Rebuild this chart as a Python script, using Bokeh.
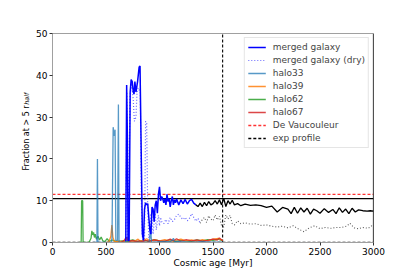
import numpy as np
from bokeh.plotting import figure
from bokeh.models import Range1d, Legend, LegendItem, FixedTicker, LinearAxis
from bokeh.embed import file_html
from bokeh.resources import INLINE

# ---------------- data ----------------
merged_t = [685, 693, 700, 706, 716, 726, 735, 745, 755, 762,
            770, 780, 795, 810, 818, 830, 840, 850, 860, 870,
            880, 890, 900, 910, 920, 930, 940, 950, 960, 970,
            980, 990, 1000, 1010, 1020, 1030, 1040, 1050, 1060, 1070,
            1080, 1090, 1100, 1110, 1120, 1130, 1140, 1150, 1160, 1180,
            1200, 1220, 1240, 1260, 1280, 1300, 1320, 1340, 1360, 1380,
            1400, 1420, 1440, 1460, 1480, 1500, 1520, 1540, 1560, 1580,
            1600, 1620, 1640, 1660, 1680, 1700, 1730, 1760, 1800, 1850,
            1900, 1950, 2000, 2050, 2100, 2150, 2200, 2230, 2260, 2290,
            2320, 2350, 2380, 2410, 2440, 2470, 2500, 2540, 2580, 2620,
            2650, 2680, 2710, 2740, 2770, 2800, 2830, 2860, 2900, 2940,
            2970, 3000]
merged_f = [0.3, 37.7, 25, 0.5, 0.5, 36, 39, 38.5, 36, 35.5,
            38.5, 36, 38.5, 42, 42.2, 20, 2, 0.5, 8, 9.5,
            9, 9.3, 6, 3, 2, 8.5, 8, 5, 9, 10,
            7, 11.5, 13.3, 10, 11, 10.5, 9.5, 10.5, 9, 11.5,
            9.8, 10.5, 8.5, 10, 11, 9, 10.2, 9.5, 10.4, 9,
            10.2, 9.3, 10.3, 9.2, 10, 10.3, 9.4, 9, 8.6, 9.4,
            8.6, 9.6, 8.8, 9.8, 9.0, 9.3, 10, 9.2, 10.2, 9.0,
            10.6, 8.6, 10, 9.2, 10.1, 9.0, 9.3, 8.8, 9.2, 8.9,
            9.0, 8.8, 8.4, 8.7, 7.3, 8.4, 8.0, 6.9, 8.4, 7.0,
            8.3, 7.3, 8.2, 6.8, 8.0, 7.6, 7.0, 8.1, 7.2, 7.9,
            6.9, 8.3, 7.2, 8.0, 6.9, 8.2, 7.3, 7.8, 7.6, 7.5,
            7.6, 7.5]
merged_color_switch = 1340

dry_t = [685, 695, 705, 725, 740, 755, 765, 780, 790, 800,
         810, 820, 830, 840, 850, 860, 870, 880, 890, 900,
         910, 920, 930, 940, 950, 960, 970, 980, 990, 1000,
         1010, 1020, 1040, 1060, 1080, 1100, 1120, 1140, 1160, 1180,
         1200, 1220, 1240, 1260, 1280, 1300, 1320, 1340, 1360, 1380,
         1400, 1420, 1440, 1460, 1480, 1500, 1520, 1540, 1560, 1580,
         1600, 1620, 1640, 1660, 1680, 1700, 1730, 1760, 1800, 1850,
         1900, 1950, 2000, 2050, 2100, 2150, 2200, 2250, 2300, 2350,
         2400, 2450, 2500, 2550, 2600, 2650, 2700, 2750, 2780, 2820,
         2860, 2900, 2950, 3000]
dry_f = [0.3, 36, 0.5, 35, 38, 34, 29, 30, 36, 37,
         36.5, 36, 10, 1, 0.5, 1, 29, 28.5, 8, 1,
         2, 7, 6, 2, 5, 7, 3, 5, 6.5, 4,
         6, 5, 4.5, 5.5, 4.5, 6, 5, 5.5, 6.5, 6.8,
         6, 5.5, 6, 5.2, 5.8, 6.9, 6.0, 5.1, 5.8, 4.6,
         5.5, 6.0, 4.8, 6.4, 5.6, 5.2, 6.6, 5.4, 6.3, 4.0,
         3.7, 6.6, 5.6, 6.5, 4.5, 4.2, 5.2, 4.5, 4.7, 4.4,
         4.5, 4.1, 4.2, 3.9, 3.7, 3.9, 3.5, 4.0, 3.2, 2.6,
         3.5, 4.0, 3.3, 3.6, 3.4, 3.6, 3.6, 3.9, 4.6, 3.5,
         3.3, 3.6, 3.4, 4.3]
dry_color_switch = 1380

halo33_t = [380, 415, 420, 425, 550, 556, 567, 576, 585, 592, 608, 616, 622, 700, 900, 910, 917,
            925, 1000, 1100, 1120, 1130, 1140, 1200, 1300, 1400, 1500, 1590]
halo33_f = [0, 0, 20, 0, 0, 1, 27.6, 25.5, 27, 0.5, 0.5, 33, 0, 0, 0, 1, 4, 0, 0.2, 0.2, 0.5,
            1.0, 0.3, 0.2, 0.1, 0.2, 0.1, 0.1]

halo39_t = [500, 530, 545, 555, 565, 580, 620, 660, 690, 700, 720, 760, 800, 820, 850, 880, 920,
            960, 1000, 1050, 1100, 1150, 1200, 1250, 1300, 1350, 1400, 1450, 1500, 1550, 1590]
halo39_f = [0, 0.3, 1.5, 4.2, 1.2, 0.2, 0.3, 0.2, 0.6, 1.2, 0.3, 0.2, 0.8, 0.3, 0.5, 0.9, 0.3,
            0.6, 0.4, 0.7, 0.3, 0.5, 0.8, 0.4, 0.6, 0.3, 0.7, 0.4, 0.8, 1.0, 0.5]

halo62_t = [250, 268, 272, 282, 286, 340, 360, 368, 376, 384, 392, 400, 410, 425, 440, 455, 470,
            490, 510, 530, 560, 600, 650, 700, 750, 800, 850, 900, 950, 1000, 1050, 1100, 1150,
            1200, 1250, 1300, 1350, 1400, 1450, 1500, 1550, 1590]
halo62_f = [0, 0, 10, 10, 0, 0, 1.0, 2.8, 1.8, 2.4, 1.2, 2.0, 0.8, 1.5, 0.6, 1.3, 0.4, 0.2, 0.9,
            0.3, 0.6, 0.2, 0.4, 0.3, 0.6, 0.2, 0.5, 0.3, 0.7, 0.4, 0.3, 0.6, 0.2, 0.5, 0.4, 0.3,
            0.6, 0.4, 0.7, 0.5, 0.8, 0.4]

halo67_t = [640, 670, 690, 700, 720, 750, 780, 810, 840, 870, 900, 950, 1000, 1050, 1100, 1130,
            1160, 1200, 1250, 1300, 1350, 1400, 1450, 1500, 1540, 1560, 1590]
halo67_f = [0, 0.5, 1.3, 0.6, 0.3, 0.5, 0.2, 0.4, 0.2, 0.5, 0.3, 0.6, 0.4, 0.3, 0.8, 0.4, 0.9,
            0.3, 0.7, 0.4, 0.6, 0.3, 0.5, 0.8, 0.6, 1.1, 0.4]

devauc_level = 11.5
exp_level = 0.0
mean_level = 10.5
merger_time = 1590
x_limits = [0, 3000]
y_limits = [0, 50]
x_ticks = [0, 500, 1000, 1500, 2000, 2500, 3000]
y_ticks = [0, 10, 20, 30, 40, 50]
y_label_main = "Fraction at > 5 r"
y_label_sub = "half"

FONT = "DejaVu Sans"
FS = "9px"

p = figure(width=405, height=274, output_backend="svg", toolbar_location=None,
           x_range=Range1d(*x_limits), y_range=Range1d(*y_limits),
           min_border_left=52, min_border_right=32, min_border_top=33, min_border_bottom=32)
p.grid.visible = False
p.outline_line_color = "#a0a0a0"
p.outline_line_width = 1
p.background_fill_color = "white"
p.border_fill_color = "white"

for ax in (p.xaxis[0], p.yaxis[0]):
    ax.axis_line_color = "#a0a0a0"
    ax.major_tick_line_color = "#333333"
    ax.major_tick_in = 0
    ax.major_tick_out = 3
    ax.minor_tick_line_color = None
    ax.major_label_text_font = FONT
    ax.major_label_text_font_size = FS
    ax.major_label_text_color = "black"
    ax.axis_label_text_font = FONT
    ax.axis_label_text_font_size = FS
    ax.axis_label_text_font_style = "normal"
    ax.axis_label_text_color = "black"
    ax.major_label_standoff = 2

p.xaxis.ticker = FixedTicker(ticks=x_ticks)
p.yaxis.ticker = FixedTicker(ticks=y_ticks)
p.xaxis.axis_label = "Cosmic age [Myr]"
p.xaxis.axis_label_standoff = 0


def label_axis(text, size, style, standoff):
    ax = LinearAxis(ticker=FixedTicker(ticks=[]), axis_line_color=None,
                    major_tick_line_color=None, minor_tick_line_color=None,
                    major_tick_in=0, major_tick_out=0, minor_tick_in=0, minor_tick_out=0,
                    major_label_text_font_size="0px",
                    axis_label=text, axis_label_text_font=FONT,
                    axis_label_text_font_size=size, axis_label_text_font_style=style,
                    axis_label_text_color="black", axis_label_standoff=standoff)
    return ax


# subscript: shifted toward the top end of the label with leading no-break spaces
p.add_layout(label_axis("\u00a0" * 38 + y_label_sub, "6.5px", "italic", 3), "left")
p.add_layout(label_axis(y_label_main, "8px", "normal", -11), "left")

DASH = "3 2"
DOT = "1 2"

mt = np.array(merged_t, dtype=float); mf = np.array(merged_f, dtype=float)
dt = np.array(dry_t, dtype=float); df = np.array(dry_f, dtype=float)
mb = mt <= merged_color_switch
db = dt <= dry_color_switch

# reference lines
r_dv = p.line(x_limits, [devauc_level] * 2, line_color="red", line_alpha=0.8, line_width=1.3, line_dash=DASH)
p.line(x_limits, [mean_level] * 2, line_color="black", line_width=1.2)
r_exp = p.line(x_limits, [exp_level] * 2, line_color="black", line_width=1.3, line_dash=DASH)
p.line([merger_time] * 2, y_limits, line_color="black", line_width=1.1, line_dash=DASH)
p.line([x_limits[1]] * 2, y_limits, line_color="black", line_width=1.2)

# halos
r62 = p.line(halo62_t, halo62_f, line_color="#2ca02c", line_alpha=0.85, line_width=1.3)
r39 = p.line(halo39_t, halo39_f, line_color="#ff7f0e", line_alpha=0.85, line_width=1.3)
r67 = p.line(halo67_t, halo67_f, line_color="#d62728", line_alpha=0.85, line_width=1.3)
r33 = p.line(halo33_t, halo33_f, line_color="#1f77b4", line_alpha=0.75, line_width=1.3)

# merged galaxy
r_dry = p.line(dt[db], df[db], line_color="blue", line_alpha=0.6, line_width=1.2, line_dash=DOT)
last = int(np.argmax(~db))
p.line(dt[last - 1:], df[last - 1:], line_color="black", line_alpha=0.65, line_width=1.1, line_dash=DOT)
r_m = p.line(mt[mb], mf[mb], line_color="blue", line_width=1.5)
lastm = int(np.argmax(~mb))
p.line(mt[lastm - 1:], mf[lastm - 1:], line_color="black", line_width=1.3)

legend = Legend(items=[
    LegendItem(label="merged galaxy", renderers=[r_m]),
    LegendItem(label="merged galaxy (dry)", renderers=[r_dry]),
    LegendItem(label="halo33", renderers=[r33]),
    LegendItem(label="halo39", renderers=[r39]),
    LegendItem(label="halo62", renderers=[r62]),
    LegendItem(label="halo67", renderers=[r67]),
    LegendItem(label="De Vaucouleur", renderers=[r_dv]),
    LegendItem(label="exp profile", renderers=[r_exp]),
], location="top_right")
legend.label_text_font = FONT
legend.label_text_font_size = FS
legend.glyph_width = 18
legend.glyph_height = 12
legend.label_height = 12
legend.spacing = 1
legend.padding = 3
legend.margin = 4
legend.label_standoff = 7
legend.border_line_color = "#cccccc"
legend.background_fill_alpha = 0.85
p.add_layout(legend)

open("out.html", "w").write(file_html(p, INLINE))
